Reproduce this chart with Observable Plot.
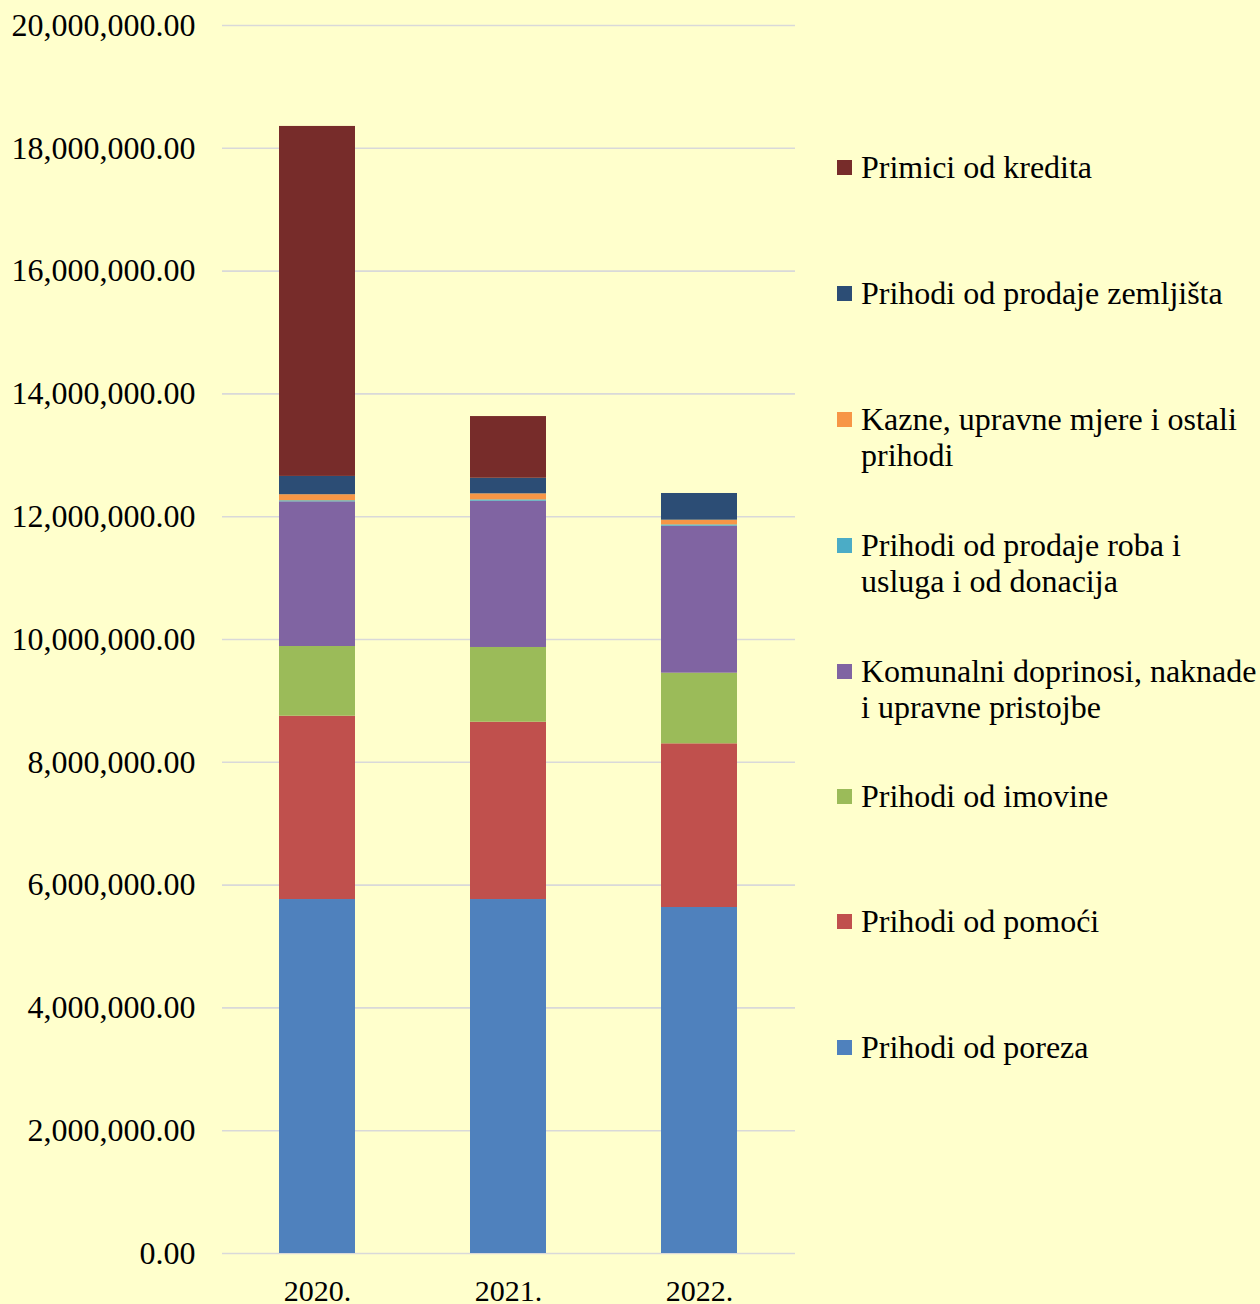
<!DOCTYPE html>
<html>
<head>
<meta charset="utf-8">
<script src="https://cdn.jsdelivr.net/npm/d3@7"></script>
<script src="https://cdn.jsdelivr.net/npm/@observablehq/plot@0.6"></script>
<style>
  html, body { margin: 0; padding: 0; background: #FFFFCC; }
  #wrap { position: relative; width: 1260px; height: 1304px; overflow: hidden; background: #FFFFCC; }
  #legend { position: absolute; left: 0; top: 0; }
  .item { position: absolute; left: 837px; font-family: "Liberation Serif", "Times New Roman", serif; font-size: 32px; line-height: 36px; color: #000; white-space: pre; }
  .sw { position: absolute; left: 0; top: 11px; width: 15px; height: 15px; }
  .lbl { position: absolute; left: 24px; top: 0; }
</style>
</head>
<body>
<div id="wrap"><div id="chart"></div><div id="legend"></div></div>
<script>
const years = ["2020.", "2021.", "2022."];
const seriesNames = [
  "Prihodi od poreza",
  "Prihodi od pomoći",
  "Prihodi od imovine",
  "Komunalni doprinosi, naknade i upravne pristojbe",
  "Prihodi od prodaje roba i usluga i od donacija",
  "Kazne, upravne mjere i ostali prihodi",
  "Prihodi od prodaje zemljišta",
  "Primici od kredita"
];
const legendLabels = [
  "Prihodi od poreza",
  "Prihodi od pomoći",
  "Prihodi od imovine",
  "Komunalni doprinosi, naknade\ni upravne pristojbe",
  "Prihodi od prodaje roba i\nusluga i od donacija",
  "Kazne, upravne mjere i ostali\nprihodi",
  "Prihodi od prodaje zemljišta",
  "Primici od kredita"
];
const colors = ["#4F81BD", "#C0504D", "#9BBB59", "#8064A2", "#4BACC6", "#F79646", "#2C4D75", "#772C2A"];

const poreza     = [5765000, 5765000, 5635000];
const pomoci     = [2986000, 2888000, 2666000];
const imovine    = [1135000, 1217000, 1150000];
const komunalni  = [2356000, 2382000, 2394000];
const roba       = [18000, 22000, 22000];
const kazne      = [98000, 98000, 76000];
const zemljista  = [298000, 254000, 435000];
const kredita    = [5700000, 1005000, 0];

const yTicks = [0, 2e6, 4e6, 6e6, 8e6, 10e6, 12e6, 14e6, 16e6, 18e6, 20e6];

const seriesValues = [poreza, pomoci, imovine, komunalni, roba, kazne, zemljista, kredita];
const data = [];
seriesNames.forEach((s, i) => years.forEach((y, j) => data.push({year: y, series: s, value: seriesValues[i][j]})));

const fmt = d3.format(",.2f");

const chart = Plot.plot({
  width: 1260,
  height: 1304,
  marginLeft: 222,
  marginRight: 465,
  marginTop: 25,
  marginBottom: 51,
  style: { background: "#FFFFCC", fontFamily: "'Liberation Serif', 'Times New Roman', serif", color: "#000" },
  x: { domain: years, paddingInner: 0.6, paddingOuter: 0.3, label: null },
  y: { domain: [0, 20e6], label: null },
  color: { domain: seriesNames, range: colors },
  marks: [
    Plot.gridY(yTicks, { stroke: "#D9D9D9", strokeOpacity: 1, strokeWidth: 1.6 }),
    Plot.barY(data, Plot.stackY({ x: "year", y: "value", fill: "series", order: seriesNames })),
    Plot.axisY(yTicks, { tickSize: 0, tickPadding: 27, tickFormat: fmt, fontSize: 32, label: null }),
    Plot.axisX({ tickSize: 0, tickPadding: 26, fontSize: 30, label: null })
  ]
});
document.getElementById("chart").appendChild(chart);

const centers = [1047, 921, 796, 671, 545, 419, 293, 167];
const legend = document.getElementById("legend");
seriesNames.forEach((s, i) => {
  const it = document.createElement("div");
  it.className = "item";
  it.style.top = (centers[i] - 18) + "px";
  const sw = document.createElement("div");
  sw.className = "sw";
  sw.style.background = colors[i];
  const lb = document.createElement("div");
  lb.className = "lbl";
  lb.textContent = legendLabels[i];
  it.appendChild(sw); it.appendChild(lb);
  legend.appendChild(it);
});
</script>
</body>
</html>
